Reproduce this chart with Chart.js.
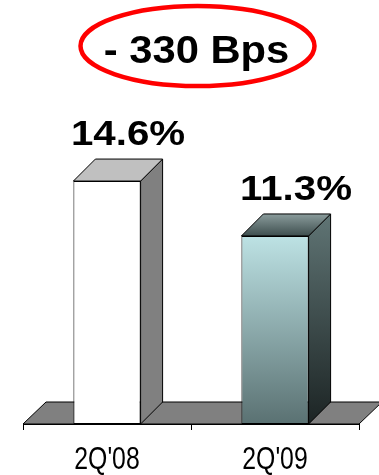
<!DOCTYPE html>
<html>
<head>
<meta charset="utf-8">
<script src="https://cdn.jsdelivr.net/npm/chart.js@4/dist/chart.umd.min.js"></script>
<style>
  html, body { margin: 0; padding: 0; background: #fff; }
  canvas { display: block; }
</style>
</head>
<body>
<canvas id="marginChart" width="379" height="475"></canvas>
<script>
const quarters = ["2Q'08", "2Q'09"];
const margins = [14.6, 11.3];
const changeText = '- 330 Bps';

const depth = 22;

function frontColor(ctx) {
  if (ctx.dataIndex === 0) return '#ffffff';
  const y = ctx.chart.scales.y;
  const top = y ? y.getPixelForValue(margins[ctx.dataIndex]) : NaN;
  const base = y ? y.getPixelForValue(0) : NaN;
  if (!isFinite(top) || !isFinite(base)) return '#8fb0b2';
  const g = ctx.chart.ctx.createLinearGradient(0, top, 0, base);
  g.addColorStop(0, '#bde2e4');
  g.addColorStop(1, '#5a7172');
  return g;
}

function poly(ctx, pts, fill) {
  ctx.beginPath();
  ctx.moveTo(pts[0][0], pts[0][1]);
  for (let i = 1; i < pts.length; i++) ctx.lineTo(pts[i][0], pts[i][1]);
  ctx.closePath();
  ctx.fillStyle = fill;
  ctx.fill();
  ctx.stroke();
}

// text squeezed or stretched horizontally around its centre
function wideText(ctx, text, x, y, font, sx) {
  ctx.save();
  ctx.translate(x, y);
  ctx.scale(sx, 1);
  ctx.fillStyle = '#000';
  ctx.font = font;
  ctx.textAlign = 'center';
  ctx.textBaseline = 'alphabetic';
  ctx.fillText(text, 0, 0);
  ctx.restore();
}

// floor under the bars
const floorPlugin = {
  id: 'floor',
  beforeDatasetsDraw(chart) {
    const { ctx, chartArea } = chart;
    const y0 = chart.scales.y.getPixelForValue(0);
    ctx.save();
    ctx.strokeStyle = '#000';
    ctx.lineWidth = 1;
    poly(ctx, [
      [chartArea.left, y0],
      [chartArea.left + depth + 1, y0 - depth],
      [chartArea.right + depth + 1, y0 - depth],
      [chartArea.right, y0]
    ], '#808080');
    ctx.restore();
  }
};

// side and top faces of each bar, plus the value labels
const boxPlugin = {
  id: 'box',
  afterDatasetsDraw(chart) {
    const ctx = chart.ctx;
    const meta = chart.getDatasetMeta(0);
    ctx.save();
    ctx.strokeStyle = '#000';
    ctx.lineWidth = 1;
    meta.data.forEach((bar, i) => {
      const l = bar.x - bar.width / 2;
      const r = bar.x + bar.width / 2;
      const t = bar.y;
      const b = bar.base;
      let side, top;
      if (i === 0) {
        side = '#808080';
        top = '#c0c0c0';
      } else {
        side = ctx.createLinearGradient(0, t - depth, 0, b);
        side.addColorStop(0, '#607575');
        side.addColorStop(1, '#1c2424');
        top = ctx.createLinearGradient(0, t - depth, 0, t);
        top.addColorStop(0, '#8a9c9c');
        top.addColorStop(1, '#3e4e4e');
      }
      poly(ctx, [[r, t], [r + depth, t - depth], [r + depth, b - depth], [r, b]], side);
      poly(ctx, [[l, t], [l + depth, t - depth], [r + depth, t - depth], [r, t]], top);

      wideText(ctx, margins[i].toFixed(1) + '%', bar.x + 21, t - 36,
        'bold 35px "Liberation Sans", Arial, sans-serif', 1.15);
    });
    ctx.restore();
  }
};

// category names under the axis, in a condensed face
const quarterLabels = {
  id: 'quarterLabels',
  afterDraw(chart) {
    const x = chart.scales.x;
    quarters.forEach((q, i) => {
      wideText(chart.ctx, q, x.getPixelForValue(i), 469,
        '31px "Liberation Sans", Arial, sans-serif', 0.8);
    });
  }
};

// the change callout at the top
const calloutPlugin = {
  id: 'callout',
  afterDraw(chart) {
    const ctx = chart.ctx;
    const cx = chart.width / 2 + 8;
    wideText(ctx, changeText, cx - 1, 63, 'bold 39px "Liberation Sans", Arial, sans-serif', 1.07);

    ctx.save();
    ctx.beginPath();
    ctx.ellipse(cx, 46, 117, 40, 0, 0, Math.PI * 2);
    ctx.strokeStyle = '#ff0000';
    ctx.lineWidth = 4.5;
    ctx.stroke();
    ctx.restore();
  }
};

new Chart(document.getElementById('marginChart').getContext('2d'), {
  type: 'bar',
  data: {
    labels: quarters,
    datasets: [{
      data: margins,
      backgroundColor: frontColor,
      borderColor: '#000',
      borderWidth: 1,
      borderSkipped: false,
      barPercentage: 0.8,
      categoryPercentage: 0.5
    }]
  },
  options: {
    responsive: false,
    animation: false,
    devicePixelRatio: 1,
    layout: { padding: { left: 23, right: 20, top: 8, bottom: 1 } },
    plugins: {
      legend: { display: false },
      tooltip: { enabled: false },
      title: { display: false }
    },
    scales: {
      x: {
        offset: true,
        grid: {
          display: true,
          offset: true,
          drawOnChartArea: false,
          drawTicks: true,
          tickLength: 6,
          color: '#000'
        },
        border: { display: true, color: '#000', width: 1 },
        ticks: { display: false },
        afterFit(scale) { scale.height = 50; }
      },
      y: {
        display: false,
        min: 0,
        max: 25
      }
    }
  },
  plugins: [floorPlugin, boxPlugin, quarterLabels, calloutPlugin]
});
</script>
</body>
</html>
